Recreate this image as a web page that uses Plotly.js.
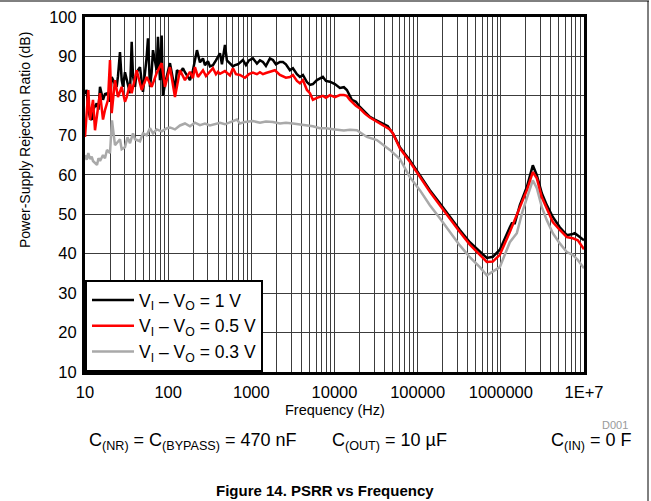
<!DOCTYPE html>
<html>
<head>
<meta charset="utf-8">
<script src="https://cdn.plot.ly/plotly-3.0.1.min.js"></script>
<style>
html,body{margin:0;padding:0;background:#fff;}
#chart{width:651px;height:501px;}
</style>
</head>
<body>
<div id="chart"></div>
<script>
// ---------- DATA ----------
const seriesNames = ["V<sub>I</sub> – V<sub>O</sub> = 1 V", "V<sub>I</sub> – V<sub>O</sub> = 0.5 V", "V<sub>I</sub> – V<sub>O</sub> = 0.3 V"];

const freq1V = [10,10.48,10.96,11.48,12.04,12.48,13.82,14.53,15.15,16.46,17.39,18.9,19.98,20.94,22.94,24.04,24.93,26.34,27.61,28.62,30.25,31.71,34.75,36.42,37.76,39.9,41.82,45.82,48.02,49.78,55.15,57.17,60.42,63.34,65.65,72.73,75.4,79.7,83.54,86.6,91.5,96.7,105.1,120.7,127.6,138.6,150.6,159.2,
182.8,198.6,221.9,241.2,262,276.9,300.8,317.9,345.6,375.4,396.8,419.5,443.3,481.6,508.9,553.2,600.9,635.2,690,792.5,861,935.9,1045,1168,1269,1379,1498,1673,1818,1975,2207,2398,2605,2911,3162,3533,3838,4171,4660,5063,5501,6144,6676,7254,7884,8806,10110,11610,12970,14090,16190,18080,20200,23190,26640,30590,35130,40350,43840,46340,50340,61110,
80590,106300,140200,184900,243800,321500,424000,559200,678700,801300,972700,1283000,1356000,1473000,1692000,2054000,2358000,2424000,2709000,3111000,3572000,4217000,5118000,6214000,7336000,7752000,8902000,10000000];
const psrr1V = [80.5,81.5,76.4,74.5,73.9,76.5,78.1,76.5,82.3,79.0,80.5,80.7,78.5,84.8,83,82.3,85,91.1,84,82.3,86,84.0,80.7,93.7,85,82.3,86,87.3,83,81.0,89.9,94.6,82.3,86,91.6,86.5,95.0,84,95.3,80.0,83,85,88.3,81.5,86.5,85.8,87.0,86.0,
84.0,86.5,91.6,88.5,89.5,87.8,88.8,87.5,87.8,89.0,89.9,90.8,88.0,92.9,89.0,88.3,87.5,87.8,88.0,89.1,87.8,89.0,89.5,88.2,89.0,88.6,87.6,89.5,89.1,88.0,88.6,88.6,88.0,86.5,87.0,85.5,84.8,85.3,83.5,82.8,83.0,84.0,84.5,84.8,83.8,83.6,83.0,82.0,82.2,81.5,79.0,78.5,77.2,76.0,74.7,74.0,73.4,72.6,72.3,71.5,70.5,67.0,
63.7,59.9,56.1,52.8,49.3,46.0,42.9,40.4,38.9,39.2,41.0,46.7,47.7,47.7,52.3,56.9,61.2,62.4,59.9,55.3,52.3,49.3,46.7,44.7,45.0,45.2,44.2,43.4];

const freq05V = [10,10.48,10.96,11.48,12.48,13.19,13.82,15.15,16.46,17.39,18.9,19.98,20.94,22.94,24.93,27.61,30.25,31.71,34.75,36.42,41.82,48.02,55.15,63.34,72.73,83.54,91.5,105.1,120.7,138.6,159.2,
182.8,198.6,209.9,228.2,241.2,262,284.7,317.9,345.6,375.4,396.8,419.5,481.6,553.2,600.9,653,729.5,837.6,935.9,1045,1168,1269,1379,1498,1673,1922,2207,2398,2605,2911,3162,3533,3838,4171,4660,5063,5501,6144,6676,7254,7884,8806,10110,11610,12970,14090,15310,18080,20200,23190,26640,32330,40350,46340,50340,61110,
80590,106300,140200,184900,243800,321500,424000,559200,678700,801300,972700,1283000,1692000,2054000,2424000,2709000,3111000,3572000,4217000,5118000,6214000,7336000,8424000,10000000];
const psrr05V = [69.6,75,81.5,73.9,79.0,71.3,74.5,80.7,74,76.4,79,89.1,75.6,84.0,79.7,82.3,78.5,79.7,83,80.7,86.5,81.5,84.8,82.3,85.8,88.3,82.3,87.3,79.7,86.5,84.0,
86.1,84.5,87.3,84.8,85.6,86.5,85.0,86.3,87.0,85.5,86.1,85.6,86.3,85.2,87.0,85.5,85.3,84.6,85.5,85.9,85.5,86.0,85.5,85.8,86.1,86.5,85.3,84.9,84.6,84.8,85.3,83.8,83.2,84.0,81.5,80.7,79.0,79.5,79.7,80.0,79.5,80.2,79.7,80.2,80.2,80.0,79.0,77.5,76.8,75.5,74.5,73.4,72.3,71.5,70.5,66.7,
63.3,59.5,55.7,52.3,48.8,45.5,42.3,39.7,37.9,38.0,39.7,45.5,51.5,56.1,60.7,59.1,54.3,51.5,48.0,46.0,44.2,43.9,43.4,41.1];

const freq03V = [10,10.48,10.96,11.48,12.04,12.48,13.94,14.53,15.15,16.46,17.39,18.38,19.98,21.11,22.94,24.24,26.34,27.61,30.25,32.43,34.75,37.76,39.9,45.82,49.78,55.15,60.42,65.65,72.73,83.54,96.7,
105.1,120.7,138.6,159.2,182.8,209.9,241.2,276.9,317.9,419.5,481.6,553.2,671.3,729.5,837.6,1045,1269,1498,1818,2207,2605,3162,3838,4660,5501,6676,7884,10110,12970,15310,18590,20200,24510,32330,42640,46340,61110,
80590,106300,140200,184900,243800,321500,424000,559200,678700,737600,972700,1283000,1557000,1838000,2231000,2424000,2709000,3111000,3572000,4217000,5118000,6214000,7336000,8424000,10000000];
const psrr03V = [65.0,63.8,65.5,64.0,64.6,63.5,62.5,64.2,63.5,65.0,64.2,66.3,65.5,73.8,67.5,68.0,69.0,66.5,67.0,69.5,68.0,70.5,69.0,68.5,70.5,70.0,71.8,70.5,71.5,71.0,71.8,
72.0,71.5,72.5,73.0,72.3,73.2,72.6,73.0,72.5,73.2,72.8,73.3,74.0,73.0,73.4,73.6,73.2,73.5,73.4,73.0,73.2,73.0,72.8,72.6,72.3,71.8,71.8,71.5,71.2,71.4,71.3,70.8,69.6,68.8,67.0,66.3,64.0,
59.4,56.1,52.3,49.0,45.5,42.1,39.1,36.6,34.5,35.0,36.6,42.9,45.2,51.0,56.6,58.6,56.6,51.8,48.5,45.2,42.6,40.4,39.7,38.4,36.3];

const xDecades = [10, 100, 1000, 10000, 100000, 1000000, 10000000];
const xTickLabels = ["10", "100", "1000", "10000", "100000", "1000000", "1E+7"];
const yTickVals = [10, 20, 30, 40, 50, 60, 70, 80, 90, 100];

const xTitle = "Frequency (Hz)";
const yTitle = "Power-Supply Rejection Ratio (dB)";
const condText = ["C<sub>(NR)</sub> = C<sub>(BYPASS)</sub> = 470 nF", "C<sub>(OUT)</sub> = 10 µF", "C<sub>(IN)</sub> = 0 F"];
const figTitle = "<b>Figure 14. PSRR vs Frequency</b>";
const figId = "D001";

// ---------- LAYOUT HELPERS ----------
const L = 85, T = 17, W = 499, H = 355;
const px = x => (x - L) / W;
const py = y => (T + H - y) / H;

// minor gridlines at 2..9 within each decade
const minorVals = [];
for (let i = 0; i < xDecades.length - 1; i++) {
  for (let m = 2; m <= 9; m++) minorVals.push(xDecades[i] * m);
}

const FONT = "Arial, 'Liberation Sans', sans-serif";
const GRID = "#3c3c3c";

const traces = [
  {x: freq03V, y: psrr03V, name: seriesNames[2], mode: "lines", line: {color: "#a9a9a9", width: 2.5}, legendrank: 3},
  {x: freq1V, y: psrr1V, name: seriesNames[0], mode: "lines", line: {color: "#000000", width: 2.5}, legendrank: 1},
  {x: freq05V, y: psrr05V, name: seriesNames[1], mode: "lines", line: {color: "#ff0000", width: 2.5}, legendrank: 2}
];

const axisCommon = {
  showgrid: true, gridcolor: GRID, gridwidth: 1,
  showline: true, mirror: true, linecolor: "#000", linewidth: 3,
  ticks: "", zeroline: false, tickfont: {family: FONT, size: 16.5, color: "#000"}, fixedrange: true
};

const layout = {
  width: 651, height: 501,
  margin: {l: L, r: 651 - L - W, t: T, b: 501 - T - H, pad: 0},
  paper_bgcolor: "#fff", plot_bgcolor: "#fff",
  font: {family: FONT, color: "#000"},
  showlegend: true,
  legend: {x: 0, y: 0, xanchor: "left", yanchor: "bottom", bgcolor: "#fff", bordercolor: "#000", borderwidth: 2,
           font: {family: FONT, size: 17.5, color: "#000"}, tracegroupgap: 0, itemwidth: 42},
  xaxis: Object.assign({}, axisCommon, {type: "log", range: [1, 7], tickmode: "array", tickvals: xDecades, ticktext: xTickLabels,
           ticklabelstandoff: 3,
           minor: {tickmode: "array", tickvals: minorVals, showgrid: true, gridcolor: GRID, gridwidth: 1, ticks: ""}}),
  yaxis: Object.assign({}, axisCommon, {range: [10, 100], tickmode: "array", tickvals: yTickVals, ticklabelstandoff: 2}),
  annotations: [
    {text: yTitle, xref: "paper", yref: "paper", x: px(25), y: py(140), textangle: -90, showarrow: false,
     xanchor: "center", yanchor: "middle", font: {family: FONT, size: 14, color: "#000"}},
    {text: xTitle, xref: "paper", yref: "paper", x: px(335), y: py(410), showarrow: false,
     xanchor: "center", yanchor: "middle", font: {family: FONT, size: 14.5, color: "#000"}},
    {text: figId, xref: "paper", yref: "paper", x: px(615), y: py(425), showarrow: false,
     xanchor: "center", yanchor: "middle", font: {family: FONT, size: 11, color: "#999"}},
    {text: condText[0], xref: "paper", yref: "paper", x: px(87), y: py(441), showarrow: false,
     xanchor: "left", yanchor: "middle", font: {family: FONT, size: 18, color: "#000"}},
    {text: condText[1], xref: "paper", yref: "paper", x: px(330), y: py(441), showarrow: false,
     xanchor: "left", yanchor: "middle", font: {family: FONT, size: 18, color: "#000"}},
    {text: condText[2], xref: "paper", yref: "paper", x: px(634), y: py(441), showarrow: false,
     xanchor: "right", yanchor: "middle", font: {family: FONT, size: 18, color: "#000"}},
    {text: figTitle, xref: "paper", yref: "paper", x: px(325), y: py(490), showarrow: false,
     xanchor: "center", yanchor: "middle", font: {family: FONT, size: 15, color: "#000"}}
  ],
  shapes: [
    {type: "line", xref: "paper", yref: "paper", x0: px(0), x1: px(649), y0: py(1), y1: py(1), line: {color: "#000", width: 1}},
    {type: "line", xref: "paper", yref: "paper", x0: px(648), x1: px(648), y0: py(1), y1: py(501), line: {color: "#000", width: 1}}
  ]
};

// Plotly puts zero-width-space spacer nodes around every <sub>; fold them into real text
function tidySubscripts(gd) {
  const ZW = "\u200b";
  gd.querySelectorAll("text").forEach(t => {
    const walker = document.createTreeWalker(t, NodeFilter.SHOW_TEXT);
    const nodes = [];
    while (walker.nextNode()) nodes.push(walker.currentNode);
    nodes.forEach(n => {
      if (n.nodeValue !== ZW) return;
      const p = n.parentNode;
      if (p && p.nodeName === "tspan" && p.childNodes.length === 1 && p.hasAttribute("dy")) {
        const next = p.nextSibling;
        if (next && next.nodeType === 3 && next.nodeValue.length) {
          n.nodeValue = next.nodeValue;
          next.parentNode.removeChild(next);
        }
      } else {
        p.removeChild(n);
      }
    });
  });
}

Plotly.newPlot("chart", traces, layout, {displayModeBar: false, staticPlot: true}).then(tidySubscripts);
</script>
</body>
</html>
